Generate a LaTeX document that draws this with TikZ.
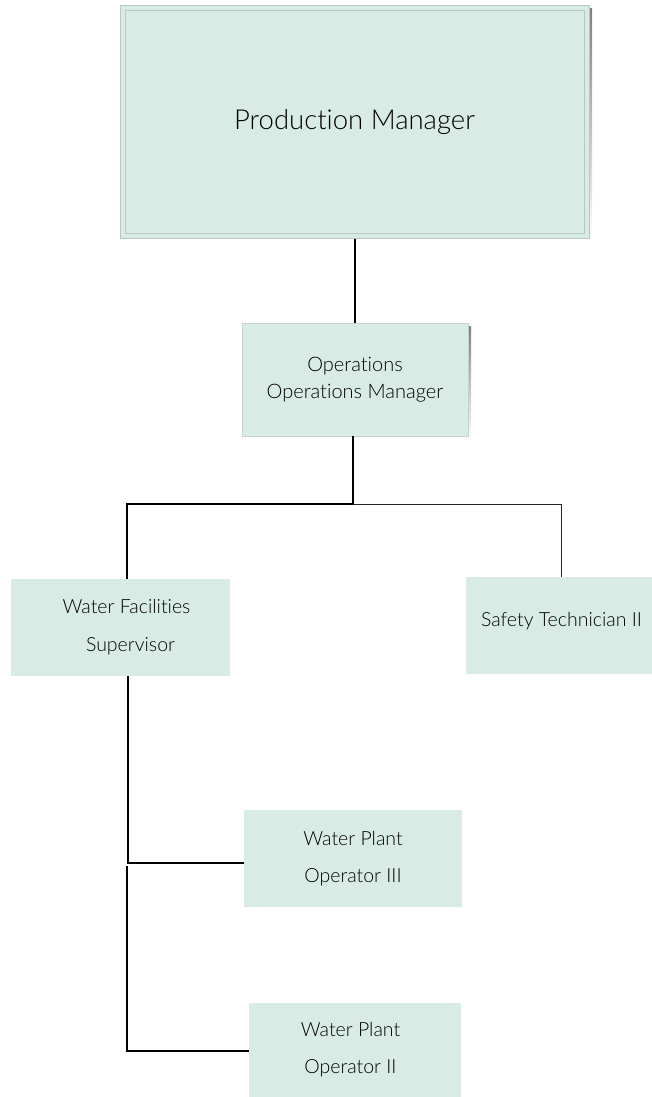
\documentclass[tikz,border=0pt]{standalone}
\usepackage{fontspec}
\setmainfont{Lato Light}[Ligatures=NoCommon]
\usetikzlibrary{calc}
\definecolor{boxfill}{HTML}{D8ECE5}
\definecolor{boxline}{HTML}{B7C8C1}
\definecolor{shade}{HTML}{DDDFDE}
\begin{document}
\begin{tikzpicture}[x=1pt,y=-1pt,
  orgbox/.style={rectangle, fill=boxfill, draw=none, inner sep=0pt, align=center,
    font=\fontsize{19.5}{37}\selectfont},
  link/.style={draw=black, line width=1.5pt},
  thinlink/.style={draw=black!85, line width=0.9pt}]
\useasboundingbox (0,0) rectangle (652,1097);

% Production Manager: double frame with a soft drop shadow
\fill[shade] (123,9) rectangle (592,241);
\node[orgbox, draw=boxline, line width=1pt, minimum width=469pt, minimum height=232pt,
  font=\fontsize{27.5}{33}\selectfont] (pm) at (354.5,122) {Production Manager};
\draw[boxline, line width=1pt] (125,11) rectangle (584,233);

% Operations
\fill[shade] (245,326) rectangle (471,439);
\node[orgbox, draw=boxline!80, line width=0.6pt, minimum width=226pt, minimum height=113pt,
  font=\fontsize{20}{27}\selectfont] (ops) at (355,379.5) {Operations\\Operations Manager};

% Second level
\node[orgbox, minimum width=219pt, minimum height=97pt] (wf) at (120.5,627.5) {};
\node[font=\fontsize{19.5}{38}\selectfont, align=center, inner sep=0pt] (wft) at (126.5,627.5) {Water Facilities\\\hspace*{8pt}Supervisor};
\node[orgbox, minimum width=186pt, minimum height=97pt] (st) at (559,625.5) {};
\node[font=\fontsize{19.5}{24}\selectfont, inner sep=0pt] (stt) at (561.5,621) {Safety Technician II};

% Third level
\node[orgbox, minimum width=218pt, minimum height=97pt] (wp3) at (353,858.5) {Water Plant\\Operator III};
\node[orgbox, minimum width=212pt, minimum height=95pt] (wp2) at (355,1050.5) {};
\node[font=\fontsize{19.5}{37}\selectfont, align=center, inner sep=0pt] (wp2t) at (350.5,1049.5) {Water Plant\\Operator II};

% Connectors
\coordinate (bus) at (353,504);
\coordinate (busL) at (127,504);
\coordinate (busR) at (561,504);
\coordinate (e3) at (128,863);
\coordinate (s2) at (127,866);
\coordinate (e2) at (127,1051);

\draw[link] (pm.south -| ops.north) -- (ops.north);
\draw[link] (ops.south -| bus) -- (bus);
\draw[link] (bus) -- (busL) -- (busL |- wf.north);
\draw[thinlink] (bus) -- (busR) -- (busR |- st.north);
\draw[link] (wf.south -| e3) -- (e3) -- (e3 -| wp3.west);
\draw[link] (s2) -- (e2) -- (e2 -| wp2.west);
\end{tikzpicture}
\end{document}
